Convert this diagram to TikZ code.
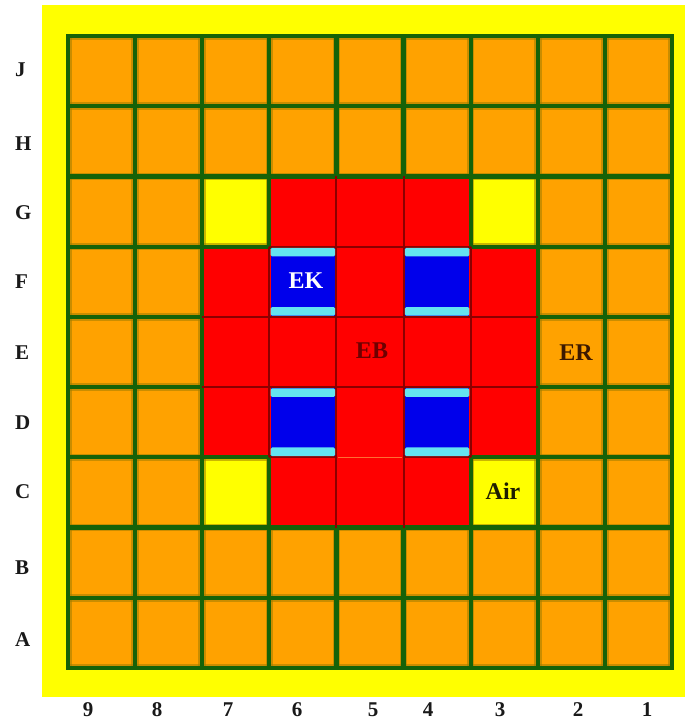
\documentclass[tikz,border=0pt]{standalone}
\usepackage{fontspec}
\setmainfont{Liberation Serif}
\definecolor{bgyellow}{RGB}{255,255,0}
\definecolor{cellorange}{RGB}{255,162,0}
\definecolor{gridgreen}{RGB}{22,98,8}
\definecolor{gridshade}{RGB}{160,125,0}
\definecolor{corered}{RGB}{255,0,0}
\definecolor{seamred}{RGB}{140,0,0}
\definecolor{seamorange}{RGB}{255,110,50}
\definecolor{rodblue}{RGB}{0,0,235}
\definecolor{rodcyan}{RGB}{100,228,240}
\definecolor{ebtext}{RGB}{110,0,0}
\definecolor{ertext}{RGB}{60,25,0}
\definecolor{airtext}{RGB}{30,30,0}
\definecolor{labeltext}{RGB}{25,25,25}
\tikzset{
  shadeline/.style={draw=gridshade, line width=7.5pt, line cap=rect, opacity=0.55},
  greenline/.style={draw=gridgreen, line width=4.2pt, line cap=rect},
  seamline/.style={draw=seamred, line width=2pt},
  rowlabel/.style={anchor=west, inner sep=0pt, font=\fontsize{21}{21}\selectfont\bfseries, text=labeltext},
  collabel/.style={anchor=center, inner sep=0pt, font=\fontsize{21}{21}\selectfont\bfseries, text=labeltext},
  celltext/.style={anchor=center, inner sep=0pt, font=\fontsize{24}{24}\selectfont\bfseries}
}
\begin{document}
\begin{tikzpicture}[x=1pt,y=-1pt]
\useasboundingbox (0,0) rectangle (685,722);
\fill[white] (0,0) rectangle (685,722);
\fill[bgyellow] (42,5) rectangle (685,697);
\begin{scope}[shift={(68,36)}, x=67.11pt, y=-70.22pt]
  % base cells
  \fill[cellorange] (0,0) rectangle (9,9);
  % yellow cells
  \foreach \cx/\cy in {2/2,6/2,2/6,6/6}
    \fill[bgyellow] (\cx,\cy) rectangle ++(1,1);
  % grid line shading, kept inside the grid
  \begin{scope}
    \clip (0,0) rectangle (9,9);
    \foreach \i in {0,...,9} {
      \draw[shadeline] (\i,0) -- (\i,9);
      \draw[shadeline] (0,\i) -- (9,\i);
    }
  \end{scope}
  \foreach \i in {0,...,9} {
    \draw[greenline] (\i,0) -- (\i,9);
    \draw[greenline] (0,\i) -- (9,\i);
  }
  % red core region
  \fill[corered] (3,2) -- (6,2) -- (6,3) -- (7,3) -- (7,6) -- (6,6) -- (6,7)
    -- (3,7) -- (3,6) -- (2,6) -- (2,3) -- (3,3) -- cycle;
  \draw[greenline] (3,2) -- (6,2) -- (6,3) -- (7,3) -- (7,6) -- (6,6) -- (6,7)
    -- (3,7) -- (3,6) -- (2,6) -- (2,3) -- (3,3) -- cycle;
  % inner seams
  \draw[seamline] (3,3) -- (3,6);
  \draw[seamline] (4,2) -- (4,7);
  \draw[seamline] (5,2) -- (5,7);
  \draw[seamline] (6,3) -- (6,6);
  \draw[seamline] (3,3) -- (6,3);
  \draw[seamline] (2,4) -- (7,4);
  \draw[seamline] (2,5) -- (7,5);
  \draw[seamline] (3,6) -- (4,6);
  \draw[seamline] (5,6) -- (6,6);
  \draw[draw=seamorange, line width=1.6pt] (4.03,6) -- (4.97,6);
  % control rods (blue with cyan bands)
  \foreach \cx/\cy in {3/3,5/3,3/5,5/5} {
    \fill[rodblue] (\cx+0.018,\cy+0.017) rectangle (\cx+0.982,\cy+0.983);
    \fill[rodcyan, rounded corners=1.5pt] (\cx+0.018,\cy+0.017) rectangle (\cx+0.982,\cy+0.14);
    \fill[rodcyan, rounded corners=1.5pt] (\cx+0.018,\cy+0.86) rectangle (\cx+0.982,\cy+0.983);
  }
\end{scope}
% cell texts
\node[celltext, text=white] (ek) at (306,281) {EK};
\node[celltext, text=ebtext] (eb) at (372,351) {EB};
\node[celltext, text=ertext] (er) at (576,353) {ER};
\node[celltext, text=airtext] (air) at (503,491) {Air};
% row labels
\node[rowlabel] (rJ) at (15,70) {J};
\node[rowlabel] (rH) at (15,144) {H};
\node[rowlabel] (rG) at (15,213) {G};
\node[rowlabel] (rF) at (15,282) {F};
\node[rowlabel] (rE) at (15,353) {E};
\node[rowlabel] (rD) at (15,423) {D};
\node[rowlabel] (rC) at (15,492) {C};
\node[rowlabel] (rB) at (15,568) {B};
\node[rowlabel] (rA) at (15,640) {A};
% column labels
\node[collabel] (c9) at (88,710) {9};
\node[collabel] (c8) at (157,710) {8};
\node[collabel] (c7) at (228,710) {7};
\node[collabel] (c6) at (297,710) {6};
\node[collabel] (c5) at (373,710) {5};
\node[collabel] (c4) at (428,710) {4};
\node[collabel] (c3) at (500,710) {3};
\node[collabel] (c2) at (578,710) {2};
\node[collabel] (c1) at (647,710) {1};
\end{tikzpicture}
\end{document}
